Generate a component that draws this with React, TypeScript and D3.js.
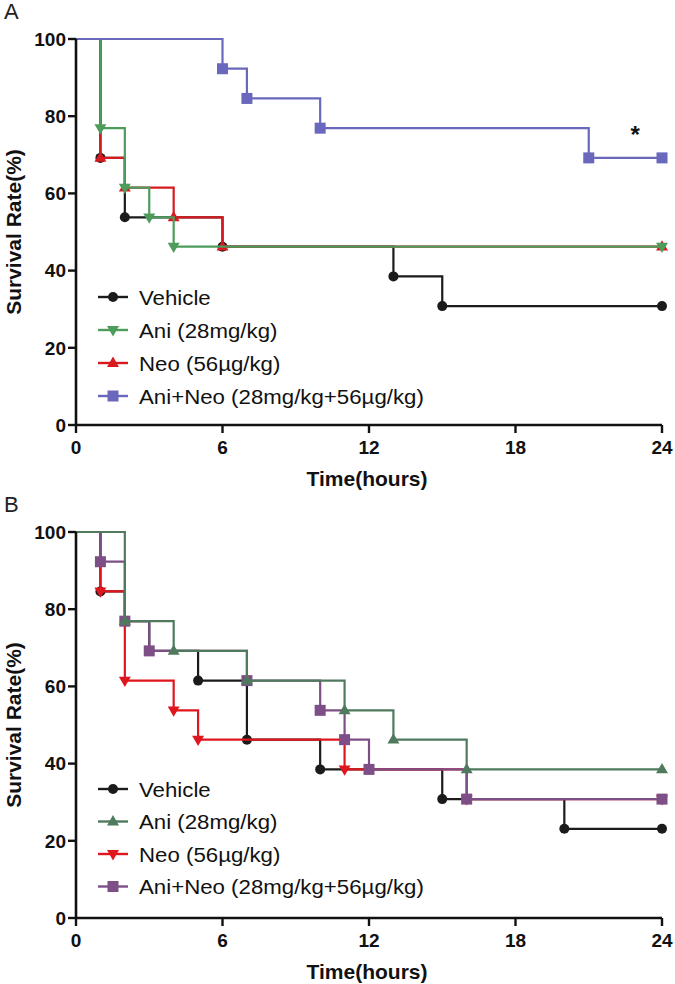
import React from "react";
import * as d3 from "d3";

// ---------- data ----------
const xTicks = [0, 6, 12, 18, 24];
const yTicks = [0, 20, 40, 60, 80, 100];
const T_END = 24;

const seriesNamesA = ["Vehicle", "Ani (28mg/kg)", "Neo (56\u00b5g/kg)", "Ani+Neo (28mg/kg+56\u00b5g/kg)"];
const seriesNamesB = ["Vehicle", "Ani (28mg/kg)", "Neo (56\u00b5g/kg)", "Ani+Neo (28mg/kg+56\u00b5g/kg)"];

// Panel A
const vehicleA_t = [1, 2, 6, 13, 15];
const vehicleA_v = [69.2, 53.8, 46.2, 38.5, 30.8];
const aniA_t = [1, 2, 3, 4];
const aniA_v = [76.9, 61.5, 53.8, 46.2];
const neoA_t = [1, 2, 4, 6];
const neoA_v = [69.2, 61.5, 53.8, 46.2];
const comboA_t = [6, 7, 10, 21];
const comboA_v = [92.3, 84.6, 76.9, 69.2];

// Panel B
const vehicleB_t = [1, 2, 3, 5, 7, 10, 15, 20];
const vehicleB_v = [84.6, 76.9, 69.2, 61.5, 46.2, 38.5, 30.8, 23.1];
const aniB_t = [2, 4, 7, 11, 13, 16];
const aniB_v = [76.9, 69.2, 61.5, 53.8, 46.2, 38.5];
const neoB_t = [1, 2, 4, 5, 11, 16];
const neoB_v = [84.6, 61.5, 53.8, 46.2, 38.5, 30.8];
const comboB_t = [1, 2, 3, 7, 10, 11, 12, 16];
const comboB_v = [92.3, 76.9, 69.2, 61.5, 53.8, 46.2, 38.5, 30.8];

// significance mark (panel A)
const starA = { t: 22.9, v: 77.5, label: "*" };

// ---------- styles ----------
const FONT = "'Liberation Sans', Arial, Helvetica, sans-serif";

type Marker = "circle" | "down" | "up" | "square";
interface Series {
  name: string;
  t: number[];
  v: number[];
  color: string;
  marker: Marker;
}

const panelA: Series[] = [
  { name: seriesNamesA[0], t: vehicleA_t, v: vehicleA_v, color: "#1b1b1b", marker: "circle" },
  { name: seriesNamesA[1], t: aniA_t, v: aniA_v, color: "#4e9c5c", marker: "down" },
  { name: seriesNamesA[2], t: neoA_t, v: neoA_v, color: "#d71a20", marker: "up" },
  { name: seriesNamesA[3], t: comboA_t, v: comboA_v, color: "#6a68bd", marker: "square" },
];
const drawOrderA = [0, 2, 1, 3];

const panelB: Series[] = [
  { name: seriesNamesB[0], t: vehicleB_t, v: vehicleB_v, color: "#1b1b1b", marker: "circle" },
  { name: seriesNamesB[1], t: aniB_t, v: aniB_v, color: "#4f7a5d", marker: "up" },
  { name: seriesNamesB[2], t: neoB_t, v: neoB_v, color: "#e0161e", marker: "down" },
  { name: seriesNamesB[3], t: comboB_t, v: comboB_v, color: "#7d4f86", marker: "square" },
];
const drawOrderB = [0, 2, 3, 1];

function MarkerShape({ type, x, y, color }: { type: Marker; x: number; y: number; color: string }) {
  if (type === "circle") return <circle cx={x} cy={y} r={5} fill={color} />;
  if (type === "square") return <rect x={x - 5.5} y={y - 5.5} width={11} height={11} fill={color} />;
  const sym = d3.symbol().type(d3.symbolTriangle).size(62)();
  const rot = type === "down" ? 180 : 0;
  return <path d={sym as string} transform={`translate(${x},${y + (type === "down" ? -0.5 : 0.5)}) rotate(${rot})`} fill={color} />;
}

interface PanelProps {
  top: number; // y of 100%
  bottom: number; // y of 0%
  label: string;
  series: Series[];
  order: number[];
  legendY: number;
  legendStep: number;
  star?: { t: number; v: number; label: string };
}

function Panel({ top, bottom, label, series, order, legendY, legendStep, star }: PanelProps) {
  const left = 76;
  const right = 662;
  const x = d3.scaleLinear().domain([0, 24]).range([left, right]);
  const y = d3.scaleLinear().domain([0, 100]).range([bottom, top]);
  const line = d3
    .line<[number, number]>()
    .x((d) => x(d[0]))
    .y((d) => y(d[1]))
    .curve(d3.curveStepAfter);

  return (
    <g>
      <text x={4} y={top - 20} fontFamily={FONT} fontSize={22} fill="#222">
        {label}
      </text>
      {/* curves */}
      {order.map((i) => {
        const s = series[i];
        const pts: [number, number][] = [[0, 100], ...s.t.map((t, k) => [t, s.v[k]] as [number, number])];
        pts.push([T_END, s.v[s.v.length - 1]]);
        const markers = pts.slice(1);
        return (
          <g key={s.name}>
            <path d={line(pts) as string} fill="none" stroke={s.color} strokeWidth={2.2} />
            {markers.map((p, k) => (
              <MarkerShape key={k} type={s.marker} x={x(p[0])} y={y(p[1])} color={s.color} />
            ))}
          </g>
        );
      })}
      {/* axes */}
      <line x1={left} x2={left} y1={top} y2={bottom} stroke="#111" strokeWidth={2.6} />
      <line x1={left} x2={right} y1={bottom} y2={bottom} stroke="#111" strokeWidth={2.6} />
      {yTicks.map((t) => (
        <g key={"y" + t}>
          <line x1={left - 8} x2={left} y1={y(t)} y2={y(t)} stroke="#111" strokeWidth={2.4} />
          <text
            x={left - 10}
            y={y(t)}
            dy="0.36em"
            textAnchor="end"
            fontFamily={FONT}
            fontWeight="bold"
            fontSize={19}
            fill="#111"
          >
            {t}
          </text>
        </g>
      ))}
      {xTicks.map((t) => (
        <g key={"x" + t}>
          <line x1={x(t)} x2={x(t)} y1={bottom} y2={bottom + 8} stroke="#111" strokeWidth={2.4} />
          <text
            x={x(t)}
            y={bottom + 29}
            textAnchor="middle"
            fontFamily={FONT}
            fontWeight="bold"
            fontSize={19}
            fill="#111"
          >
            {t}
          </text>
        </g>
      ))}
      <text
        x={(left + right) / 2 - 2}
        y={bottom + 61}
        textAnchor="middle"
        fontFamily={FONT}
        fontWeight="bold"
        fontSize={21}
        fill="#111"
      >
        Time(hours)
      </text>
      <text
        transform={`translate(21,${(top + bottom) / 2}) rotate(-90)`}
        textAnchor="middle"
        fontFamily={FONT}
        fontWeight="bold"
        fontSize={21}
        fill="#111"
      >
        Survival Rate(%)
      </text>
      {/* legend */}
      {series.map((s, i) => {
        const ly = legendY + i * legendStep;
        return (
          <g key={"lg" + i}>
            <line x1={98} x2={128} y1={ly} y2={ly} stroke={s.color} strokeWidth={2.4} />
            <MarkerShape type={s.marker} x={113} y={ly} color={s.color} />
            <text
              x={139}
              y={ly}
              dy="0.36em"
              fontFamily={FONT}
              fontSize={21}
              fill="#111"
              transform={`translate(${139 * -0.06},0) scale(1.06,1)`}
            >
              {s.name}
            </text>
          </g>
        );
      })}
      {star && (
        <text
          x={x(star.t)}
          y={y(star.v)}
          dy="0.7em"
          textAnchor="middle"
          fontFamily={FONT}
          fontWeight="bold"
          fontSize={24}
          fill="#111"
        >
          {star.label}
        </text>
      )}
    </g>
  );
}

export default function App() {
  return (
    <div style={{ position: "absolute", left: 0, top: 0 }}>
      <svg width={675} height={984} style={{ display: "block", background: "#fff" }}>
        <Panel top={39} bottom={425} label="A" series={panelA} order={drawOrderA} legendY={297} legendStep={33} star={starA} />
        <Panel top={532} bottom={918} label="B" series={panelB} order={drawOrderB} legendY={789} legendStep={32.5} />
      </svg>
    </div>
  );
}
